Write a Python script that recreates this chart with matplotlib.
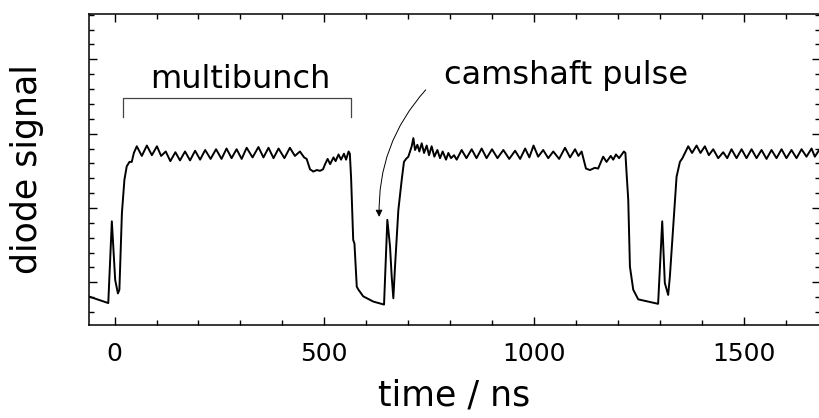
import matplotlib
matplotlib.use("Agg")
import matplotlib.pyplot as plt
from matplotlib.ticker import MultipleLocator

# photodiode trace (time in ns, signal in arb. units)
time_ns = [
    -62, -15, -6.5, 1.5, 8, 11.5, 17.5, 23.5, 29, 35.5, 41, 46,
    53, 65, 77, 89, 101, 111, 122, 133, 145, 156, 168, 180, 192, 204,
    216, 229, 242, 255, 267, 279, 291, 303, 315, 329, 343, 355, 367, 379,
    391, 405, 418, 430, 442, 452,
    458, 466, 474, 482, 490, 497, 502, 508, 514, 522, 527, 534, 540, 547,
    552, 558, 561,
    564, 569, 572, 575, 577.5, 581.5, 593, 617, 642.5, 650.4, 656.8, 660.8,
    664.7, 668.7, 676.6, 684.7, 690, 695,
    700.5, 708.5, 712.4, 716.4, 722, 726.7, 732.3, 737.9, 744.2, 749.8, 756,
    762.5, 769.6, 776, 782.3, 790.3, 795.9, 802.2, 809.4, 815.7, 827.6, 839,
    851.5, 863, 875.3, 887, 900, 913, 927, 941, 955, 967, 979, 989, 999,
    1010, 1022, 1034, 1046, 1060, 1074, 1086, 1098, 1106, 1113.6,
    1120, 1124, 1133.5, 1145, 1153, 1165, 1173, 1183, 1189, 1195.5, 1203,
    1214.5, 1218,
    1221, 1224.8, 1228.8, 1236.7, 1248.6, 1296, 1305.8, 1312, 1320, 1324,
    1332, 1340, 1348, 1354,
    1367.8, 1377, 1387.7, 1397, 1407.5, 1417, 1427.4, 1439.3, 1451.2, 1460.8,
    1471, 1483, 1495, 1506.8, 1518.8, 1530.7, 1542.6, 1554.5, 1566.4, 1578.3,
    1590.3, 1602, 1614, 1626, 1638, 1649.8, 1661.8, 1669.7, 1680, 1690,
]
diode_signal = [
    -0.19, -0.28, 0.82, 0.03, -0.15, -0.10, 0.93, 1.38, 1.56, 1.62, 1.62, 1.74,
    1.83, 1.70, 1.84, 1.71, 1.83, 1.70, 1.76, 1.63, 1.75, 1.64, 1.76, 1.64, 1.77, 1.65,
    1.78, 1.66, 1.79, 1.66, 1.80, 1.67, 1.79, 1.66, 1.81, 1.68, 1.82, 1.68, 1.81, 1.67,
    1.80, 1.67, 1.81, 1.70, 1.76, 1.68,
    1.66, 1.52, 1.49, 1.51, 1.50, 1.52, 1.59, 1.66, 1.59, 1.68, 1.63, 1.72, 1.65, 1.73,
    1.65, 1.76, 1.73,
    1.40, 0.57, 0.52, 0.21, -0.06, -0.10, -0.19, -0.26, -0.30, 0.84, 0.48, 0.075,
    -0.215, 0.21, 0.97, 1.38, 1.62, 1.66,
    1.69, 1.83, 1.94, 1.78, 1.85, 1.76, 1.87, 1.74, 1.84, 1.71, 1.83,
    1.69, 1.78, 1.67, 1.76, 1.65, 1.74, 1.67, 1.71, 1.65, 1.78, 1.67,
    1.79, 1.67, 1.80, 1.67, 1.79, 1.67, 1.78, 1.66, 1.77, 1.66, 1.80, 1.68, 1.84,
    1.69, 1.78, 1.67, 1.76, 1.66, 1.81, 1.68, 1.79, 1.70, 1.76,
    1.62, 1.53, 1.51, 1.54, 1.53, 1.69, 1.62, 1.70, 1.65, 1.72, 1.67,
    1.76, 1.74,
    1.45, 1.11, 0.21, -0.10, -0.23, -0.29, 0.82, -0.01, -0.17, 0.075,
    0.75, 1.42, 1.62, 1.67,
    1.83, 1.74, 1.84, 1.74, 1.83, 1.71, 1.79, 1.67, 1.75, 1.67,
    1.79, 1.67, 1.79, 1.67, 1.79, 1.67, 1.78, 1.66, 1.78, 1.67,
    1.79, 1.67, 1.78, 1.67, 1.79, 1.69, 1.80, 1.69, 1.78, 1.72,
]

x_major_ticks = [0, 500, 1000, 1500]
x_tick_labels = ["0", "500", "1000", "1500"]

# annotation anchors (data coords)
bracket_t = [20, 20, 563, 563]
bracket_y = [2.23, 2.48, 2.48, 2.23]
arrow_tip = (631, 0.88)
arrow_tail = (742, 2.59)

plt.rcParams["font.family"] = ["DejaVu Sans"]

fig = plt.figure(figsize=(8.2, 4.18), dpi=100)
ax = fig.add_axes([0.108, 0.2225, 0.892, 0.744])

ax.plot(time_ns, diode_signal, color="black", lw=1.4, solid_joinstyle="round")

ax.set_xlim(-62, 1682)
ax.set_ylim(-0.575, 3.61)

ax.set_xticks(x_major_ticks)
ax.set_xticklabels(x_tick_labels)
ax.xaxis.set_minor_locator(MultipleLocator(100))
ax.set_yticks([0, 1, 2, 3])
ax.yaxis.set_minor_locator(MultipleLocator(0.2))
ax.tick_params(which="both", direction="in", top=True, right=True,
               labelleft=False, width=1.0)
ax.tick_params(which="major", length=6, labelsize=18, pad=12.5)
ax.tick_params(which="minor", length=3.5)
for s in ax.spines.values():
    s.set_linewidth(1.1)

ax.set_xlabel("time / ns", fontsize=25, labelpad=9)
ax.set_ylabel("diode signal", fontsize=25, labelpad=32)

# multibunch bracket
ax.plot(bracket_t, bracket_y, color="#444444", lw=0.9)
ax.text(299, 2.61, "multibunch", fontsize=23, ha="center", va="baseline")

# camshaft pulse label + curved arrow
ax.text(1076, 2.665, "camshaft pulse", fontsize=23, ha="center", va="baseline")
ax.annotate("", xy=arrow_tip, xytext=arrow_tail,
            arrowprops=dict(arrowstyle="-|>", connectionstyle="arc3,rad=0.2",
                            color="black", lw=0.7, mutation_scale=10,
                            shrinkA=0, shrinkB=0))

fig.savefig("out.png", dpi=100)
